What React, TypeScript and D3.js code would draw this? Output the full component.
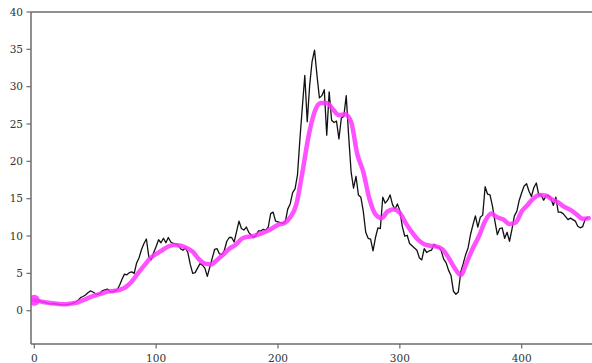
import React from "react";
import * as d3 from "d3";

const W = 592;
const H = 363;

// Raw series, sampled every 2 steps starting at 0
const PRICE_STEP = 2;
const price = [
  1.4, 1.35, 1.3, 1.2, 1.15, 1.05, 0.95, 0.9, 0.95, 0.9, 0.85, 0.8, 0.75, 0.8, 0.85, 0.9, 1.0, 1.15, 1.4, 1.75,
  1.9, 2.1, 2.4, 2.65, 2.5, 2.3, 2.2, 2.3, 2.7, 2.8, 2.9, 2.6, 2.5, 2.65, 2.8, 3.4, 4.2, 4.9, 4.8, 5.1,
  5.2, 5.0, 6.4, 7.1, 8.2, 9.0, 9.6, 7.2, 6.8, 7.8, 8.6,
  9.5, 9.1, 9.7, 9.1, 9.8, 9.2, 9.0, 8.9, 8.8, 8.3, 8.1, 8.4, 7.8, 6.2, 5.0, 5.1, 5.7, 6.3, 6.1, 5.7,
  4.6, 5.8, 7.0, 8.2, 8.3, 7.6, 7.5, 8.1, 9.3, 9.8, 9.8, 9.2, 10.6, 12.0, 11.0, 10.8, 11.2, 10.5, 10.1, 9.8,
  10.1, 10.7, 10.7, 10.9, 10.8, 11.2, 13.0, 13.2, 12.0, 11.9,
  11.8, 11.7, 11.9, 13.6, 14.3, 15.8, 16.3, 18.2, 23.0, 27.3, 31.5, 25.3, 30.2, 33.4, 34.9, 31.5, 28.5, 28.8, 29.6, 23.5,
  29.3, 25.5, 25.2, 25.4, 23.0, 25.8, 26.0, 28.8, 23.4, 18.6, 16.4, 18.0, 15.5, 15.2, 13.3, 10.5, 9.7,
  9.6, 8.0, 9.8, 11.1, 11.0, 15.2, 14.4, 14.8, 15.5, 14.2, 13.6, 14.3, 13.4, 11.3, 10.0, 10.1, 9.0, 8.7, 8.4, 8.1,
  7.1, 6.8, 8.3, 7.8, 8.0, 8.1, 8.9, 8.5, 8.5, 8.0, 6.9, 6.4, 5.4, 4.7, 2.6, 2.2, 2.5, 5.2, 6.3, 7.5,
  8.4, 10.2, 11.5,
  12.7, 11.2, 12.5, 12.8, 16.6, 15.6, 15.5, 14.0, 12.0, 10.2, 11.0, 11.1, 9.7, 10.5, 9.3, 10.9, 12.7, 13.3, 14.8, 15.8,
  16.7, 17.0, 16.0, 15.3, 16.5, 17.1, 15.5, 15.5, 14.8, 15.4, 15.4, 15.0, 14.1, 15.2, 13.2, 13.2, 13.0, 12.6, 12.2, 12.4,
  12.2, 12.0, 11.3, 11.1, 11.25, 12.2, 12.5,
];

// Smoothed trend, sampled every 5 steps starting at 0
const TREND_STEP = 5;
const trend = [
  1.4, 1.25, 1.1, 1.0, 0.9, 0.85, 0.95, 1.1, 1.4, 1.75, 2.05, 2.3, 2.55, 2.65, 2.8, 3.15, 3.9, 5.0, 6.0, 7.0,
  7.6, 8.1, 8.6, 8.8, 8.7, 8.4, 7.9, 6.9, 6.3, 6.2, 6.8, 7.5, 8.3, 8.8, 9.6, 9.9, 10.0, 10.3, 10.6, 11.0,
  11.5, 11.7, 12.5, 14.2, 18.5, 23.3, 26.6, 27.8, 27.8, 27.0, 26.2, 26.3, 25.3, 21.0, 18.6, 15.0, 12.9, 12.4, 13.3, 13.6,
  13.1, 11.7, 10.5, 9.5, 8.9, 8.7, 8.6, 8.2, 7.1, 5.7, 4.8, 6.5, 8.4, 10.0, 12.0, 13.0, 12.5, 12.2, 11.6, 11.8,
  13.3, 14.2, 15.1, 15.5, 15.4, 14.9, 14.5, 13.9, 13.5, 12.9, 12.3, 12.4,
];

const xTicks = [0, 100, 200, 300, 400];
const yTicks = [0, 5, 10, 15, 20, 25, 30, 35, 40];

const SPINE = "#6b6b6b";
const TEXT = "#333";
const MAGENTA = "#ff33ff";

export default function App() {
  const left = 31;
  const right = W;
  const top = 12;
  const bottom = 344;

  const x = d3.scaleLinear().domain([-2.7, 457.7]).range([left, right]);
  const y = d3.scaleLinear().domain([-4.46, 40]).range([bottom, top]);

  const priceLine = d3
    .line<number>()
    .x((_, i) => x(i * PRICE_STEP))
    .y((d) => y(d));

  const trendLine = d3
    .line<number>()
    .x((_, i) => x(i * TREND_STEP))
    .y((d) => y(d))
    .curve(d3.curveMonotoneX);

  return (
    <svg
      width={W}
      height={H}
      style={{ position: "absolute", left: 0, top: 0, display: "block", background: "#fff" }}
      fontFamily="'DejaVu Serif', serif"
    >
      <defs>
        <clipPath id="plot">
          <rect x={left} y={top} width={right - left} height={bottom - top} />
        </clipPath>
      </defs>

      <g clipPath="url(#plot)">
        <path d={priceLine(price) ?? ""} fill="none" stroke="#111" strokeWidth={1.3} strokeLinejoin="round" />
        <path
          d={trendLine(trend) ?? ""}
          fill="none"
          stroke={MAGENTA}
          strokeOpacity={0.85}
          strokeWidth={4.5}
          strokeLinejoin="round"
          strokeLinecap="round"
        />
        <circle cx={x(0)} cy={y(trend[0])} r={5.5} fill={MAGENTA} fillOpacity={0.85} />
      </g>

      {/* spines */}
      <line x1={left} x2={left} y1={top} y2={bottom} stroke={SPINE} strokeWidth={1.5} />
      <line x1={left} x2={right} y1={bottom} y2={bottom} stroke={SPINE} strokeWidth={1.5} />
      <line x1={left} x2={right} y1={top} y2={top} stroke={SPINE} strokeWidth={1.5} />

      {/* y axis */}
      {yTicks.map((t) => (
        <g key={`y${t}`} transform={`translate(0,${y(t)})`}>
          <line x1={left - 4.5} x2={left} stroke={SPINE} strokeWidth={1.2} />
          <text x={left - 8} dy="0.35em" textAnchor="end" fontSize={10.5} fill={TEXT}>
            {t}
          </text>
        </g>
      ))}

      {/* x axis */}
      {xTicks.map((t) => (
        <g key={`x${t}`} transform={`translate(${x(t)},0)`}>
          <line y1={bottom} y2={bottom + 4.5} stroke={SPINE} strokeWidth={1.2} />
          <text y={bottom + 17.5} textAnchor="middle" fontSize={10.5} fill={TEXT}>
            {t}
          </text>
        </g>
      ))}
    </svg>
  );
}
